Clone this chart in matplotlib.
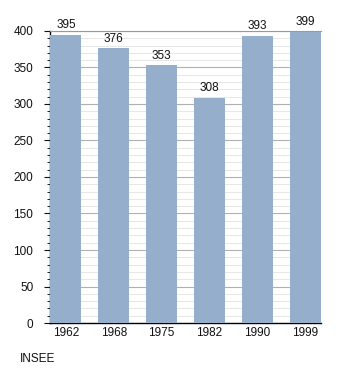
import matplotlib.pyplot as plt
from matplotlib.ticker import MultipleLocator

plt.rcParams['font.family'] = ['Liberation Sans', 'DejaVu Sans']

# data
years = ['1962', '1968', '1975', '1982', '1990', '1999']
population = [395, 376, 353, 308, 393, 399]

fig = plt.figure(figsize=(3.5, 3.73), dpi=100)
ax = fig.add_axes([0.143, 0.134, 0.774, 0.783])

x = range(len(years))
bars = ax.bar(x, population, width=0.65, color='#94aecb', zorder=3)

# value labels above bars
for xi, v in zip(x, population):
    ax.text(xi, v + 5, str(v), ha='center', va='bottom', fontsize=8.5, color='#111111')

ax.set_xlim(-0.33, 5.33)
ax.set_ylim(0, 400)
ax.set_xticks(list(x))
ax.set_xticklabels(years)
ax.yaxis.set_major_locator(MultipleLocator(50))
ax.yaxis.set_minor_locator(MultipleLocator(10))
ax.tick_params(axis='both', labelsize=8.5, colors='#111111')
ax.tick_params(axis='x', length=0, pad=3)
ax.tick_params(axis='y', which='major', length=4, width=0.8, pad=8)
ax.tick_params(axis='y', which='minor', length=2, width=0.6)

# grid lines
ax.grid(axis='y', which='major', color='#b0b0b0', linewidth=0.8, zorder=0)
ax.grid(axis='y', which='minor', color='#e3e3e3', linewidth=0.6, zorder=0)
ax.set_axisbelow(True)

ax.spines['right'].set_visible(False)
ax.spines['top'].set_color('#999999')
ax.spines['top'].set_linewidth(0.8)
ax.spines['left'].set_linewidth(1.0)
ax.spines['bottom'].set_linewidth(1.0)

fig.text(0.057, 0.03, 'INSEE', fontsize=8.5, color='#111111')

fig.savefig('out.png', dpi=100)
